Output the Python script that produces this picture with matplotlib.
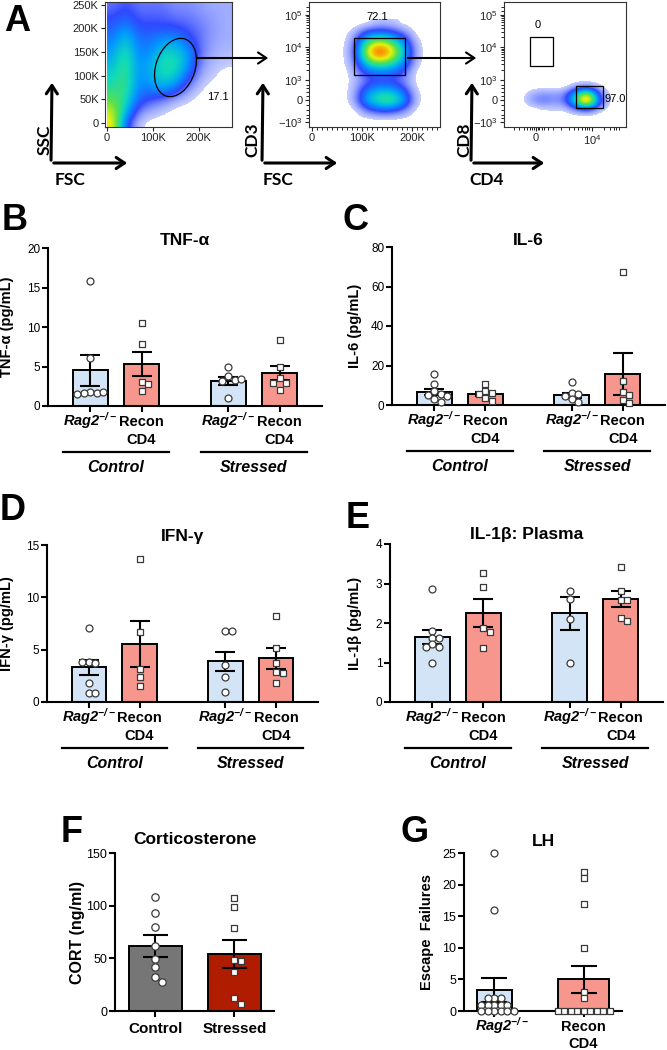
import numpy as np
import matplotlib
matplotlib.use('Agg')
import matplotlib.pyplot as plt
from matplotlib.patches import Ellipse, Rectangle, FancyArrowPatch
from matplotlib.colors import LinearSegmentedColormap

plt.rcParams['font.family'] = ['Liberation Sans', 'DejaVu Sans']

# ---------------- data ----------------
group_names = ['Control', 'Stressed']

tnf_mean = [4.5, 5.3, 3.2, 4.2]
tnf_sem = [1.95, 1.55, 0.5, 0.9]
tnf_pts = [[15.8, 6.1, 1.8, 1.6, 1.7, 1.8, 1.5],
           [10.5, 7.8, 3.1, 2.8, 1.9],
           [4.9, 3.8, 3.3, 3.2, 3.4, 1.0],
           [8.4, 5.0, 3.5, 2.9, 2.9, 2.0]]

il6_mean = [6.5, 5.5, 5.0, 15.5]
il6_sem = [1.6, 1.0, 1.3, 10.6]
il6_pts = [[15.5, 10.5, 7, 5.5, 5, 4.5, 3, 1.5],
           [10.5, 7, 6, 5.5, 3.5, 2],
           [11.5, 6, 5.5, 4.5, 3, 1.5],
           [67.5, 12, 6.5, 5, 2.5, 1]]

ifn_mean = [3.3, 5.5, 3.9, 4.2]
ifn_sem = [0.7, 2.2, 0.9, 1.0]
ifn_pts = [[7.1, 3.8, 3.7, 3.8, 1.8, 0.9, 0.9],
           [13.7, 6.7, 3.2, 2.4, 1.5],
           [6.8, 6.8, 3.5, 2.4, 1.0],
           [8.2, 5.2, 3.7, 2.9, 2.8, 1.8]]

il1b_mean = [1.65, 2.25, 2.25, 2.6]
il1b_sem = [0.18, 0.35, 0.42, 0.2]
il1b_pts = [[2.85, 1.8, 1.62, 1.62, 1.47, 1.4, 1.4, 1.0],
            [3.27, 2.91, 1.87, 1.77, 1.37],
            [2.82, 2.6, 2.1, 1.0],
            [3.42, 2.81, 2.58, 2.58, 2.13, 2.05]]

cort_labels = ['Control', 'Stressed']
cort_mean = [61.5, 54]
cort_sem = [10.5, 13]
cort_pts = [[108, 93, 80, 62, 49, 42, 32, 28],
            [107, 99, 79, 48, 47, 37, 12, 6.5]]

lh_mean = [3.3, 5.0]
lh_sem = [1.9, 2.1]
lh_pts = [[25, 16, 2, 2, 2, 1, 1, 1, 1, 1, 0, 0, 0, 0, 0, 0],
          [22, 21, 17, 10, 3, 2, 0, 0, 0, 0, 0, 0, 0, 0, 0]]

# flow cytometry densities (coarse grids, top row first)
fsc_ssc_density = [
    [0.15, 0.20, 0.15, 0.15, 0.15, 0.12, 0.12, 0.10, 0.08, 0.08],
    [0.20, 0.25, 0.18, 0.18, 0.18, 0.15, 0.15, 0.12, 0.10, 0.08],
    [0.25, 0.35, 0.22, 0.22, 0.22, 0.22, 0.18, 0.15, 0.10, 0.08],
    [0.30, 0.45, 0.28, 0.28, 0.35, 0.35, 0.25, 0.15, 0.10, 0.08],
    [0.35, 0.52, 0.30, 0.32, 0.45, 0.45, 0.35, 0.15, 0.08, 0.06],
    [0.40, 0.55, 0.32, 0.38, 0.50, 0.50, 0.35, 0.12, 0.06, 0.04],
    [0.45, 0.55, 0.32, 0.38, 0.48, 0.45, 0.25, 0.08, 0.04, 0.00],
    [0.50, 0.55, 0.30, 0.32, 0.38, 0.30, 0.12, 0.04, 0.00, 0.00],
    [0.58, 0.50, 0.25, 0.20, 0.15, 0.08, 0.04, 0.00, 0.00, 0.00],
    [0.68, 0.42, 0.15, 0.08, 0.04, 0.00, 0.00, 0.00, 0.00, 0.00],
    [0.75, 0.25, 0.04, 0.00, 0.00, 0.00, 0.00, 0.00, 0.00, 0.00],
]
fsc_cd3_density = [
    [0.00, 0.00, 0.00, 0.05, 0.05, 0.00, 0.00, 0.00],
    [0.00, 0.05, 0.25, 0.30, 0.25, 0.15, 0.00, 0.00],
    [0.00, 0.10, 0.55, 0.75, 0.60, 0.35, 0.04, 0.00],
    [0.00, 0.12, 0.70, 1.00, 0.80, 0.45, 0.06, 0.00],
    [0.00, 0.10, 0.50, 0.65, 0.55, 0.35, 0.04, 0.00],
    [0.00, 0.05, 0.25, 0.30, 0.28, 0.20, 0.00, 0.00],
    [0.00, 0.04, 0.15, 0.18, 0.18, 0.12, 0.00, 0.00],
    [0.00, 0.05, 0.30, 0.40, 0.40, 0.25, 0.02, 0.00],
    [0.00, 0.06, 0.40, 0.55, 0.60, 0.40, 0.04, 0.00],
    [0.00, 0.00, 0.15, 0.25, 0.25, 0.15, 0.00, 0.00],
    [0.00, 0.00, 0.00, 0.00, 0.00, 0.00, 0.00, 0.00],
]
cd4_cd8_density = [
    [0.00, 0.00, 0.00, 0.00, 0.00, 0.00, 0.00, 0.00, 0.00],
    [0.00, 0.00, 0.00, 0.00, 0.00, 0.08, 0.12, 0.04, 0.00],
    [0.00, 0.08, 0.12, 0.10, 0.12, 0.45, 0.75, 0.20, 0.00],
    [0.00, 0.12, 0.16, 0.12, 0.16, 0.55, 1.00, 0.30, 0.00],
    [0.00, 0.00, 0.04, 0.04, 0.04, 0.18, 0.30, 0.08, 0.00],
    [0.00, 0.00, 0.00, 0.00, 0.00, 0.00, 0.00, 0.00, 0.00],
]

# ---------------- layout helpers ----------------
W, H = 667, 1050
fig = plt.figure(figsize=(W / 100, H / 100), dpi=100)


def px_axes(l, t, r, b):
    return fig.add_axes([l / W, 1 - b / H, (r - l) / W, (b - t) / H])


def fxy(x, y):
    return (x / W, 1 - y / H)


def ftext(x, y, s, **kw):
    fig.text(x / W, 1 - y / H, s, **kw)


def swarm_offsets(vals, px_x, px_y, d=6.5):
    placed, offs = [], []
    for v in vals:
        y = v * px_y
        step = 0
        while True:
            k = (step + 1) // 2
            c = k * d if step % 2 else -k * d
            if all((c - a) ** 2 + (y - bb) ** 2 >= (0.9 * d) ** 2 for a, bb in placed):
                break
            step += 1
        placed.append((c, y))
        offs.append(c / px_x)
    return np.array(offs)


def bar_panel(rect, ylim, yticks, means, sems, pts, positions, widths, xlim,
              colors, markers, capsize, msize, title, title_gap, ylabel, ylab_off,
              ylab_size=10.5, tick_size=8.5):
    l, t, r, b = rect
    ax = px_axes(l, t, r, b)
    ax.bar(positions, means, widths, color=colors, edgecolor='black',
           linewidth=1.4, zorder=2)
    ax.errorbar(positions, means, yerr=sems, fmt='none', ecolor='black',
                elinewidth=1.5, capsize=capsize, capthick=1.5, zorder=3)
    px_x = (r - l) / (xlim[1] - xlim[0])
    px_y = (b - t) / (ylim[1] - ylim[0])
    for p, vals, m in zip(positions, pts, markers):
        offs = swarm_offsets(vals, px_x, px_y)
        ax.scatter(p + offs, vals, s=msize if m == 'o' else msize * 0.85,
                   marker=m, facecolor='white', edgecolor='#3a3a3a',
                   linewidths=0.9, zorder=4, clip_on=False)
    ax.set_xlim(xlim)
    ax.set_ylim(ylim)
    ax.set_yticks(yticks)
    ax.set_xticks(positions)
    ax.set_xticklabels([])
    for s in ['top', 'right']:
        ax.spines[s].set_visible(False)
    for s in ['left', 'bottom']:
        ax.spines[s].set_linewidth(1.5)
    ax.tick_params(direction='out', length=4, width=1.5, labelsize=tick_size, pad=1.5)
    ax.text(0.5, 1 + title_gap / (b - t), title, transform=ax.transAxes,
            ha='center', va='baseline', fontsize=12.5, fontweight='bold')
    ax.set_ylabel(ylabel, fontsize=ylab_size, fontweight='bold', va='center')
    ax.yaxis.set_label_coords(-ylab_off / (r - l), 0.5)
    return ax


rag_label = r'$\mathregular{Rag2^{-/-}}$'


def group_labels(ax, rect, positions, width, xlim):
    l, t, r, b = rect
    h = b - t
    px_x = (r - l) / (xlim[1] - xlim[0])
    for i, p in enumerate(positions):
        if i % 2 == 0:
            ax.annotate(rag_label, xy=(p, 0), xycoords=('data', 'axes fraction'),
                        xytext=(0, -20), textcoords='offset pixels', ha='center',
                        va='baseline', fontsize=10.5, fontweight='bold',
                        fontstyle='italic', annotation_clip=False)
        else:
            for txt, off in [('Recon', -20), ('CD4', -38)]:
                ax.annotate(txt, xy=(p, 0), xycoords=('data', 'axes fraction'),
                            xytext=(0, off), textcoords='offset pixels',
                            ha='center', va='baseline', fontsize=10.5,
                            fontweight='bold', annotation_clip=False)
    ext = 10 / px_x
    for g, name in enumerate(group_names):
        p0, p1 = positions[2 * g], positions[2 * g + 1]
        ax.plot([p0 - width / 2 - ext, p1 + width / 2 + ext], [-46 / h, -46 / h],
                color='black', lw=1.6, transform=ax.get_xaxis_transform(),
                clip_on=False)
        ax.annotate(name, xy=((p0 + p1) / 2, 0), xycoords=('data', 'axes fraction'),
                    xytext=(0, -66), textcoords='offset pixels', ha='center',
                    va='baseline', fontsize=11.5, fontweight='bold',
                    fontstyle='italic', annotation_clip=False)


# ---------------- panel A: flow cytometry ----------------
flow_cmap = LinearSegmentedColormap.from_list('flow', [
    (0.00, (0.25, 0.35, 1.00, 0.30)),
    (0.18, (0.10, 0.20, 1.00, 0.90)),
    (0.32, (0.00, 0.60, 1.00, 1.00)),
    (0.45, (0.05, 0.85, 0.75, 1.00)),
    (0.57, (0.35, 0.88, 0.30, 1.00)),
    (0.70, (0.90, 0.95, 0.05, 1.00)),
    (0.85, (1.00, 0.50, 0.00, 1.00)),
    (1.00, (1.00, 0.05, 0.00, 1.00))])
flow_cmap.set_under((1, 1, 1, 0))
flow_kw = dict(aspect='auto', cmap=flow_cmap, vmin=0.03, vmax=1, interpolation='bicubic',
               interpolation_stage='data', origin='upper')


def flow_style(ax):
    for s in ax.spines.values():
        s.set_linewidth(0.8)
        s.set_color('#333333')
    ax.tick_params(direction='out', length=3, width=0.8, labelsize=8, pad=1.5,
                   colors='#222222')
    ax.tick_params(which='minor', direction='out', length=2, width=0.6)


ax1 = px_axes(105, 2, 232, 127)
ax1.imshow(fsc_ssc_density, extent=[0, 270e3, -12.5e3, 262.5e3], **flow_kw)
ax1.set_xlim(-4e3, 272e3)
ax1.set_ylim(-8.5e3, 256e3)
ax1.set_xticks([0, 100e3, 200e3])
ax1.set_xticklabels(['0', '100K', '200K'])
ax1.set_yticks([0, 50e3, 100e3, 150e3, 200e3, 250e3])
ax1.set_yticklabels(['0', '50K', '100K', '150K', '200K', '250K'])
flow_style(ax1)
ax1.add_patch(Ellipse((0.555, 0.476), 0.31, 0.48, angle=-18, transform=ax1.transAxes,
                      fill=False, ec='black', lw=0.9))
ax1.text(0.89, 0.24, '17.1', transform=ax1.transAxes, ha='center', va='center', fontsize=8)

log_y_ticks = [0.896, 0.64, 0.376, 0.216, 0.04]
log_y_labels = [r'$\mathregular{10^5}$', r'$\mathregular{10^4}$', r'$\mathregular{10^3}$',
                '0', r'$\mathregular{-10^3}$']
log_y_minor = []
for lo, hi in [(0.376, 0.64), (0.64, 0.896)]:
    log_y_minor += [lo + (hi - lo) * np.log10(k) for k in range(2, 10)]
log_y_minor += [0.25, 0.28, 0.31, 0.34, 0.18, 0.14, 0.10, 0.07, 0.93, 0.96]

ax2 = px_axes(309, 2, 440, 127)
ax2.imshow(fsc_cd3_density, extent=[45e3, 245e3, 0.02, 0.86], **flow_kw)
ax2.set_xlim(-6e3, 256e3)
ax2.set_ylim(0, 1)
ax2.set_xticks([0, 100e3, 200e3])
ax2.set_xticklabels(['0', '100K', '200K'])
ax2.set_xticks(np.arange(10e3, 256e3, 10e3), minor=True)
ax2.set_yticks(log_y_ticks)
ax2.set_yticklabels(log_y_labels)
ax2.set_yticks(log_y_minor, minor=True)
flow_style(ax2)
ax2.add_patch(Rectangle((0.34, 0.42), 0.39, 0.29, transform=ax2.transAxes,
                        fill=False, ec='black', lw=0.9))
ax2.text(0.52, 0.88, '72.1', transform=ax2.transAxes, ha='center', va='center', fontsize=8)

ax3 = px_axes(504, 2, 626, 127)
ax3.imshow(cd4_cd8_density, extent=[0.10, 0.91, 0.06, 0.40], **flow_kw)
ax3.set_xlim(0, 1)
ax3.set_ylim(0, 1)
ax3.set_xticks([0.26, 0.72])
ax3.set_xticklabels(['0', r'$\mathregular{10^4}$'])
ax3.set_xticks([0.08, 0.12, 0.16, 0.19, 0.21, 0.23, 0.245, 0.275, 0.29, 0.31, 0.33,
                0.36, 0.40, 0.47, 0.53, 0.57, 0.61, 0.64, 0.66, 0.68, 0.70,
                0.82, 0.87, 0.90, 0.92, 0.94], minor=True)
ax3.set_yticks(log_y_ticks)
ax3.set_yticklabels(log_y_labels)
ax3.set_yticks(log_y_minor, minor=True)
flow_style(ax3)
ax3.add_patch(Rectangle((0.21, 0.49), 0.19, 0.23, transform=ax3.transAxes,
                        fill=False, ec='black', lw=0.9))
ax3.add_patch(Rectangle((0.59, 0.15), 0.22, 0.18, transform=ax3.transAxes,
                        fill=False, ec='black', lw=0.9))
ax3.text(0.28, 0.82, '0', transform=ax3.transAxes, ha='center', va='center', fontsize=8)
ax3.text(0.91, 0.22, '97.0', transform=ax3.transAxes, ha='center', va='center', fontsize=8)

# axis arrows under the flow plots
arrow_style = '->,head_length=6,head_width=4'
for x0, x1, ylab, xlab, ylab_x, xlab_x in [(52, 130, 'SSC', 'FSC', 45, 70),
                                           (263, 340, 'CD3', 'FSC', 252, 278),
                                           (472, 547, 'CD8', 'CD4', 464, 487)]:
    fig.add_artist(FancyArrowPatch(fxy(x0 - 1, 163), fxy(x0, 80),
                                   transform=fig.transFigure, arrowstyle=arrow_style,
                                   lw=2.2, color='black', mutation_scale=1))
    fig.add_artist(FancyArrowPatch(fxy(x0 - 1, 163), fxy(x1, 163),
                                   transform=fig.transFigure, arrowstyle=arrow_style,
                                   lw=2.2, color='black', mutation_scale=1))
    ftext(ylab_x, 140, ylab, rotation=90, ha='center', va='center', fontsize=12.5,
          fontweight='bold', family=['Lato', 'DejaVu Sans'])
    ftext(xlab_x, 180, xlab, ha='center', va='center', fontsize=12.5,
          fontweight='bold', family=['Lato', 'DejaVu Sans'])

for xa, xb in [(194, 271), (405, 479)]:
    fig.add_artist(FancyArrowPatch(fxy(xa, 58), fxy(xb, 58), transform=fig.transFigure,
                                   arrowstyle=arrow_style, lw=1.5, color='black',
                                   mutation_scale=1))

# ---------------- panels B-E ----------------
positions4 = [0, 1, 2.7, 3.7]
xlim4 = (-0.83, 4.53)
w4 = 0.68
cols4 = ['#d2e4f5', '#f7968c', '#d2e4f5', '#f7968c']
mk4 = ['o', 's', 'o', 's']

rectB = (48, 248, 322, 406)
axB = bar_panel(rectB, (0, 20), [0, 5, 10, 15, 20], tnf_mean, tnf_sem, tnf_pts,
                positions4, w4, xlim4, cols4, mk4, 7.5, 25, 'TNF-\u03b1', 3,
                'TNF-\u03b1 (pg/mL)', 41)
group_labels(axB, rectB, positions4, w4, xlim4)

rectC = (392, 247, 665, 405)
axC = bar_panel(rectC, (0, 80), [0, 20, 40, 60, 80], il6_mean, il6_sem, il6_pts,
                positions4, w4, xlim4, cols4, mk4, 7.5, 25, 'IL-6', 2,
                'IL-6 (pg/mL)', 37)
group_labels(axC, rectC, positions4, w4, xlim4)

rectD = (47, 545, 318, 702)
axD = bar_panel(rectD, (0, 15), [0, 5, 10, 15], ifn_mean, ifn_sem, ifn_pts,
                positions4, w4, xlim4, cols4, mk4, 7.5, 25, 'IFN-\u03b3', 4,
                'IFN-\u03b3 (pg/mL)', 40)
group_labels(axD, rectD, positions4, w4, xlim4)

rectE = (390, 544, 663, 702)
axE = bar_panel(rectE, (0, 4), [0, 1, 2, 3, 4], il1b_mean, il1b_sem, il1b_pts,
                positions4, w4, xlim4, cols4, mk4, 7.5, 25, 'IL-1\u03b2: Plasma', 5,
                'IL-1\u03b2 (pg/mL)', 35)
group_labels(axE, rectE, positions4, w4, xlim4)

# ---------------- panel F ----------------
rectF = (115, 853, 274, 1011)
xlimF = (-0.51, 1.5)
axF = bar_panel(rectF, (0, 150), [0, 50, 100, 150], cort_mean, cort_sem, cort_pts,
                [0, 1], 0.67, xlimF, ['#767676', '#b01c00'], ['o', 's'], 9, 28,
                'Corticosterone', 9, 'CORT (ng/ml)', 38, ylab_size=11.5, tick_size=9)
axF.set_xticklabels(cort_labels, fontsize=11, fontweight='bold')
axF.tick_params(axis='x', pad=4)

# ---------------- panel G ----------------
rectG = (464, 853, 622, 1011)
xlimG = (-0.34, 1.43)
axG = bar_panel(rectG, (0, 25), [0, 5, 10, 15, 20, 25], lh_mean, lh_sem, lh_pts,
                [0, 1], [0.39, 0.57], xlimG, ['#d2e4f5', '#f7968c'], ['o', 's'], 9.5, 25,
                'LH', 7, 'Escape  Failures', 37, ylab_size=10.5, tick_size=9)
axG.annotate(rag_label, xy=(0, 0), xycoords=('data', 'axes fraction'), xytext=(8, -20),
             textcoords='offset pixels', ha='center', va='baseline', fontsize=10.5,
             fontweight='bold', fontstyle='italic', annotation_clip=False)
for txt, off in [('Recon', -20), ('CD4', -37)]:
    axG.annotate(txt, xy=(1, 0), xycoords=('data', 'axes fraction'), xytext=(0, off),
                 textcoords='offset pixels', ha='center', va='baseline', fontsize=10.5,
                 fontweight='bold', annotation_clip=False)

# ---------------- panel letters ----------------
for letter, x, y in [('A', 4, 31), ('B', 2, 230), ('C', 343, 230), ('D', 0, 520),
                     ('E', 346, 528), ('F', 61, 842), ('G', 400, 842)]:
    ftext(x, y, letter, ha='left', va='baseline', fontsize=26, fontweight='bold')

fig.savefig('out.png', dpi=100)
